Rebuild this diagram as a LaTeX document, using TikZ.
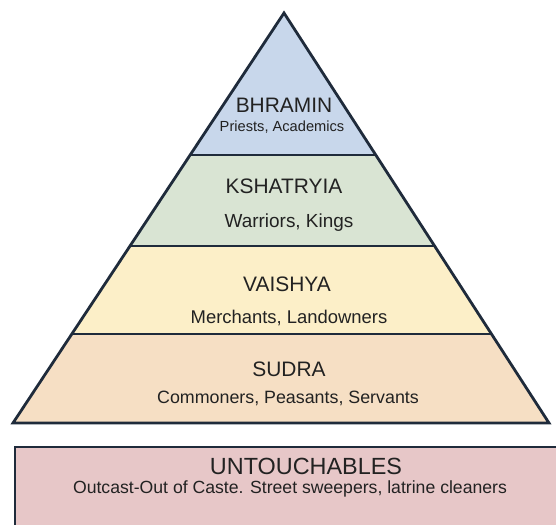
\documentclass[tikz,border=0pt]{standalone}
\usepackage{fontspec}
\setmainfont{Liberation Sans}
\usetikzlibrary{calc}
\definecolor{edge}{HTML}{1F2B3B}
\definecolor{cblue}{HTML}{C8D7EB}
\definecolor{cgreen}{HTML}{D9E4D3}
\definecolor{cyellow}{HTML}{FCEFC8}
\definecolor{cpeach}{HTML}{F6DFC4}
\definecolor{cpink}{HTML}{E7C7C8}
\definecolor{ink}{HTML}{222222}
\tikzset{
  title/.style={text=ink, inner sep=0pt, font=\fontsize{21}{24}\selectfont},
  sub/.style={text=ink, inner sep=0pt, font=\fontsize{18.5}{21}\selectfont},
  divider/.style={draw=edge, line width=2pt},
  outline/.style={draw=edge, line width=2.8pt, line join=miter}
}
\begin{document}
\begin{tikzpicture}[x=1bp,y=-1bp]
\useasboundingbox (0,0) rectangle (556,525);
\fill[white] (0,0) rectangle (556,525);
% corners
\coordinate (A) at (284,13);
\coordinate (BL) at (13,423);
\coordinate (BR) at (549,423);
\coordinate (L1) at ($(BL)!0.6537!(A)$);
\coordinate (R1) at ($(BR)!0.6537!(A)$);
\coordinate (L2) at ($(BL)!0.4317!(A)$);
\coordinate (R2) at ($(BR)!0.4317!(A)$);
\coordinate (L3) at ($(BL)!0.2171!(A)$);
\coordinate (R3) at ($(BR)!0.2171!(A)$);
% layers
\fill[cblue] (A) -- (L1) -- (R1) -- cycle;
\fill[cgreen] (L1) -- (L2) -- (R2) -- (R1) -- cycle;
\fill[cyellow] (L2) -- (L3) -- (R3) -- (R2) -- cycle;
\fill[cpeach] (L3) -- (BL) -- (BR) -- (R3) -- cycle;
\draw[divider] (L1) -- (R1);
\draw[divider] (L2) -- (R2);
\draw[divider] (L3) -- (R3);
\draw[outline] (A) -- (BL) -- (BR) -- cycle;
% untouchables box
\coordinate (UT) at (15,447);
\draw[outline, fill=cpink] (UT) rectangle (570,540);
% texts
\node[title] (bh) at (284,105) {BHRAMIN};
\node[text=ink, inner sep=0pt, font=\fontsize{14.7}{17}\selectfont] (bhs) at (282,127) {Priests, Academics};
\node[title] (ks) at (284,186) {KSHATRYIA};
\node[sub, font=\fontsize{19}{22}\selectfont] (kss) at (289,223) {Warriors, Kings};
\node[title] (va) at (287,284) {VAISHYA};
\node[sub] (vas) at (289,318) {Merchants, Landowners};
\node[title] (su) at (289,369) {SUDRA};
\node[sub, font=\fontsize{17.9}{21}\selectfont] (sus) at (288,398) {Commoners, Peasants, Servants};
\node[title, font=\fontsize{23.5}{27}\selectfont] (un) at (306,466) {UNTOUCHABLES};
\node[sub, font=\fontsize{17.7}{21}\selectfont] (uns) at (290,489) {Outcast-Out of Caste. Street sweepers, latrine cleaners};
\end{tikzpicture}
\end{document}
